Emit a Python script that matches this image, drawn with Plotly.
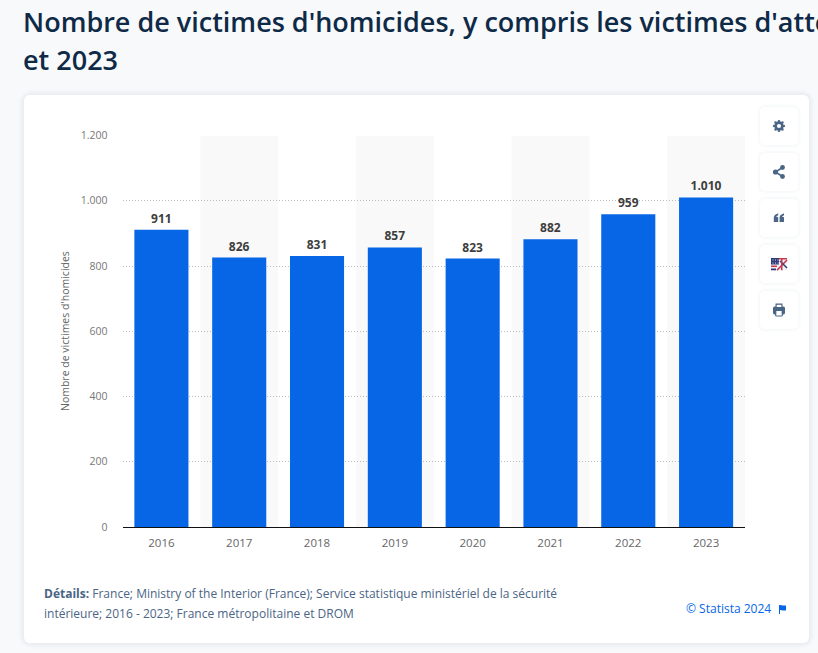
import math
import plotly.graph_objects as go

#------------------------------------------------------------------------------
#   Data
#------------------------------------------------------------------------------
years = ["2016", "2017", "2018", "2019", "2020", "2021", "2022", "2023"]
victims = [911, 826, 831, 857, 823, 882, 959, 1010]
y_ticks = [0, 200, 400, 600, 800, 1000, 1200]

title_lines = ["Nombre de victimes d'homicides, y compris les victimes d'atte", "et 2023"]
details_lines = ["<b>Détails:</b> France; Ministry of the Interior (France); Service statistique ministériel de la sécurité",
                 "intérieure; 2016 - 2023; France métropolitaine et DROM"]
credit = "© Statista 2024"
y_title = "Nombre de victimes d'homicides"

W, H = 818, 653
BLUE = "#0666e5"
ICON = "#4a6585"
FONT = "Open Sans"


#------------------------------------------------------------------------------
#   Helpers, everything outside the plot is placed in page pixels
#------------------------------------------------------------------------------
def px(x):
    return x / W


def py(y):
    return 1 - y / H


def path(points, close=True):
    s = "M" + " L".join("%.5f,%.5f" % (px(a), py(b)) for a, b in points)
    return s + (" Z" if close else "")


def rounded(x0, y0, x1, y1, r):
    # corners cut in small steps, good enough at this size
    k = 0.3 * r
    pts = [(x0 + r, y0), (x1 - r, y0), (x1 - k, y0 + k), (x1, y0 + r), (x1, y1 - r), (x1 - k, y1 - k),
           (x1 - r, y1), (x0 + r, y1), (x0 + k, y1 - k), (x0, y1 - r), (x0, y0 + r), (x0 + k, y0 + k)]
    return path(pts)


def rect(x0, y0, x1, y1, color):
    return dict(type="rect", xref="paper", yref="paper", x0=px(x0), x1=px(x1), y0=py(y0), y1=py(y1),
                fillcolor=color, line_width=0, layer="above")


def dot(cx, cy, r, color):
    return dict(type="circle", xref="paper", yref="paper", x0=px(cx - r), x1=px(cx + r), y0=py(cy - r), y1=py(cy + r),
                fillcolor=color, line_width=0, layer="above")


def shape_path(d, color, layer="above", line=0, line_color=None):
    return dict(type="path", xref="paper", yref="paper", path=d, fillcolor=color, layer=layer,
                line=dict(width=line, color=line_color or color))


def stroke(points, width, color):
    return shape_path(path(points, close=False), "rgba(0,0,0,0)", line=width, line_color=color)


def text(x, y, s, size, color, anchor="left", weight=None):
    return dict(xref="paper", yref="paper", x=px(x), y=py(y), text=s, showarrow=False, xanchor=anchor,
                yanchor="middle", align=anchor, font=dict(family=FONT, size=size, color=color, weight=weight))


#------------------------------------------------------------------------------
#   Card and buttons
#------------------------------------------------------------------------------
shapes = []
for grow, alpha in [(6, 0.012), (4, 0.018), (2, 0.025)]:
    shapes.append(shape_path(rounded(24 - grow, 95 - grow, 809 + grow, 643 + grow, 6 + grow),
                             "rgba(40,60,90,%s)" % alpha, layer="below"))
shapes.append(shape_path(rounded(24, 95, 809, 643, 5), "white", layer="below"))

button_tops = [107, 153, 199, 245, 291]
for top in button_tops:
    for grow, alpha in [(3, 0.012), (1.5, 0.02)]:
        shapes.append(shape_path(rounded(760 - grow, top - grow, 798 + grow, top + 38 + grow, 4 + grow),
                                 "rgba(40,60,90,%s)" % alpha))
    shapes.append(shape_path(rounded(760, top, 798, top + 38, 4), "white"))

# gear
shapes.append(dot(779, 126, 4.6, ICON))
for k in range(8):
    angle = k * math.pi / 4
    shapes.append(dot(779 + 4.8 * math.cos(angle), 126 + 4.8 * math.sin(angle), 1.3, ICON))
shapes.append(dot(779, 126, 2.1, "white"))
# share
shapes.append(stroke([(782.5, 167.5), (775.5, 172), (782.5, 176.5)], 1.5, ICON))
for cx, cy, r in [(782.5, 167.5, 2.4), (775.5, 172, 2.6), (782.5, 176.5, 2.4)]:
    shapes.append(dot(cx, cy, r, ICON))
# quotes
for x0 in [773.8, 779.6]:
    shapes.append(shape_path(path([(x0, 222), (x0, 217), (x0 + 1, 215), (x0 + 4.4, 213.3), (x0 + 4.4, 215.2),
                                   (x0 + 2.2, 216.6), (x0 + 4.4, 217.2), (x0 + 4.4, 222)]), ICON))
# flag, half stars and stripes, half union jack
shapes.append(rect(771, 258, 787, 270.3, "#f1f1f6"))
shapes.append(rect(771, 258, 779, 264.5, "#2f3a78"))
for cx in [772.5, 775, 777.5]:
    for cy in [259.5, 262.5]:
        shapes.append(rect(cx, cy, cx + 1, cy + 1, "#dfe1ee"))
shapes.append(rect(779, 258, 787, 259.5, "#c8384a"))
shapes.append(rect(771, 265.5, 777, 267, "#c8384a"))
shapes.append(rect(771, 268.5, 776, 270.3, "#2f3a78"))
shapes.append(stroke([(777, 270.3), (787, 260)], 1.6, "#c8384a"))
shapes.append(stroke([(780, 261), (787, 268)], 1.4, "#2f3a78"))
shapes.append(rect(781, 258, 782.5, 270.3, "#c8384a"))
# printer
shapes.append(shape_path(rounded(773, 306.5, 785, 314.5, 1.5), ICON))
shapes.append(rect(775.5, 303.5, 782.5, 308, ICON))
shapes.append(rect(776.2, 311, 781.8, 316, "white"))
shapes.append(stroke([(775.7, 310.5), (775.7, 316), (782.3, 316), (782.3, 310.5)], 1, ICON))
shapes.append(rect(776.7, 304.8, 781.3, 307, "white"))
# small flag next to the credit
shapes.append(rect(779, 605, 780, 614, BLUE))
shapes.append(shape_path(path([(780, 605), (783, 605.5), (786, 605.5), (786, 610.5), (783, 610.5), (780, 610)]), BLUE))

# alternating column bands, on every second year
for i in range(1, len(years), 2):
    shapes.append(dict(type="rect", xref="x", yref="y", x0=i - 0.5, x1=i + 0.5, y0=0, y1=max(y_ticks),
                       fillcolor="#f9f9f9", line_width=0, layer="below"))

#------------------------------------------------------------------------------
#   Figure
#------------------------------------------------------------------------------
fig = go.Figure(go.Bar(x=years, y=victims, marker=dict(color=BLUE, line_width=0), texttemplate="%{y:,d}",
                       textposition="outside", cliponaxis=False,
                       textfont=dict(family=FONT, size=12, color="#3e3e3e", weight="bold")))

annotations = [text(21, 21, title_lines[0], 27, "#0f2a47", weight=600),
               text(21, 59, title_lines[1], 27, "#0f2a47", weight=600),
               text(42, 593, details_lines[0], 12, "#4a6585"),
               text(42, 613, details_lines[1], 12, "#4a6585"),
               text(773, 608, credit, 12, BLUE, anchor="right"),
               dict(xref="paper", yref="paper", x=px(65), y=py(331), text=y_title, textangle=-90, showarrow=False,
                    xanchor="center", yanchor="middle", font=dict(family=FONT, size=10.5, color="#666666"))]

fig.update_layout(width=W, height=H, autosize=False, margin=dict(l=0, r=0, t=0, b=0, autoexpand=False),
                  paper_bgcolor="#f8f9fb", plot_bgcolor="rgba(0,0,0,0)", bargap=0.305, showlegend=False,
                  separators=",.", shapes=shapes, annotations=annotations, font=dict(family=FONT))
fig.update_xaxes(type="category", domain=[px(122.5), px(745)], showgrid=False, showline=True, linecolor="#111111",
                 linewidth=1, ticks="", ticklabelstandoff=5, tickfont=dict(family=FONT, size=11.5, color="#666666"))
fig.update_yaxes(domain=[py(527), py(135.5)], range=[0, max(y_ticks)], tickvals=y_ticks, tickformat=",d",
                 showgrid=True, gridcolor="#bdbdbd", griddash="1px,2px", gridwidth=1, zeroline=False, showline=False,
                 ticks="", ticklabelstandoff=14, tickfont=dict(family=FONT, size=10.5, color="#777777"))

fig.write_html("out.html", config=dict(displayModeBar=False),
               post_script="document.body.style.margin='0';document.body.style.overflow='hidden';")
